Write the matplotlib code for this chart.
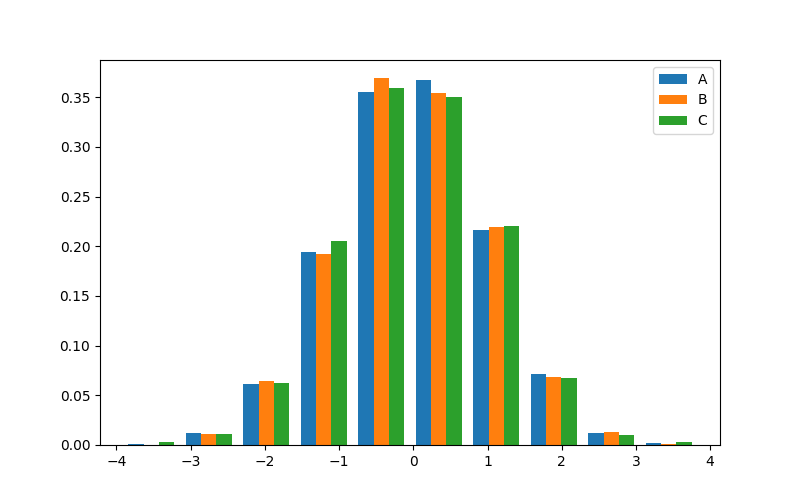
import numpy as np
import matplotlib
matplotlib.use("Agg")
import matplotlib.pyplot as plt

# Histogram bin edges (10 bins) and density heights
bin_edges = np.linspace(-3.92, 3.83, 11)
labels = ["A", "B", "C"]
density_a = [0.0007, 0.012, 0.061, 0.194, 0.355, 0.367, 0.216, 0.071, 0.012, 0.002]
density_b = [0.0005, 0.011, 0.064, 0.192, 0.369, 0.354, 0.219, 0.068, 0.013, 0.001]
density_c = [0.003, 0.011, 0.062, 0.205, 0.359, 0.350, 0.220, 0.067, 0.010, 0.003]


def main():
    centers = (bin_edges[:-1] + bin_edges[1:]) / 2

    fig, ax = plt.subplots(figsize=(8, 5), dpi=100)
    ax.hist(
        [centers, centers, centers],
        bins=bin_edges,
        weights=[density_a, density_b, density_c],
        label=labels,
    )
    ax.legend(loc="upper right")

    fig.savefig("out.png")


if __name__ == "__main__":
    main()
